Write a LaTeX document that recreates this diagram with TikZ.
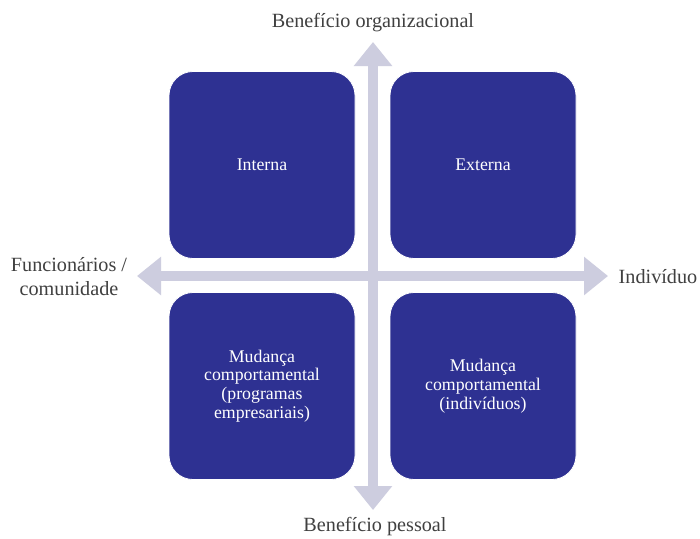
\documentclass[tikz,border=0pt]{standalone}
\usepackage{fontspec}
\setmainfont{Liberation Serif}
\usetikzlibrary{arrows.meta}
\definecolor{boxblue}{RGB}{46,49,146}
\definecolor{axisgray}{RGB}{205,205,223}
\definecolor{labelgray}{RGB}{64,64,64}
\begin{document}
\begin{tikzpicture}[x=1pt,y=-1pt,
  quad/.style={fill=boxblue,draw=white,line width=0.8pt,rounded corners=24pt,
    minimum width=186pt,minimum height=187pt,text=white,align=center,
    text width=170pt,inner sep=0pt,font=\fontsize{17.8}{18.8}\selectfont},
  axislabel/.style={text=labelgray,align=center,inner sep=0pt,font=\fontsize{20.2}{24}\selectfont},
  axis/.style={draw=axisgray,line width=10pt,
    {Triangle[length=24pt,width=37pt]}-{Triangle[length=24pt,width=37pt]}}]
\useasboundingbox[fill=white] (0,0) rectangle (700,538);
% axes
\coordinate (left) at (137,276);
\coordinate (right) at (608,276);
\coordinate (top) at (373,42);
\coordinate (bottom) at (373,510);
\draw[axis] (left) -- (right);
\draw[axis] (top) -- (bottom);
% quadrants
\node[quad] (q1) at (262,165) {Interna};
\node[quad] (q2) at (483,165) {Externa};
\node[quad] (q3) at (262,386) {Mudança\\comportamental\\(programas\\empresariais)};
\node[quad] (q4) at (483,386) {Mudança\\comportamental\\(indivíduos)};
% labels
\node[axislabel] (lt) at (373,23) {Benefício organizacional};
\node[axislabel] (lb) at (375,527) {Benefício pessoal};
\node[axislabel] (ll) at (69,277) {Funcionários /\\comunidade};
\node[axislabel] (lr) at (658,277) {Indivíduo};
\end{tikzpicture}
\end{document}
